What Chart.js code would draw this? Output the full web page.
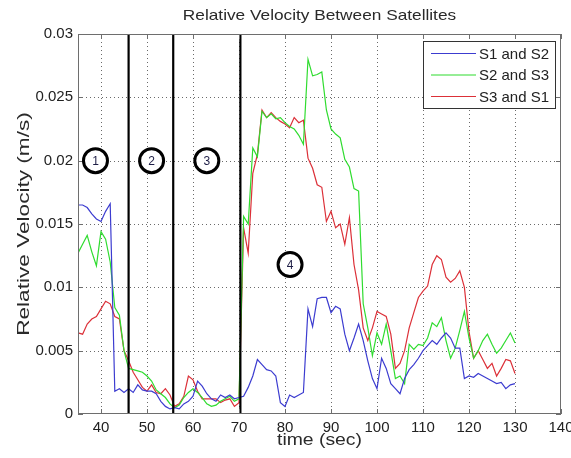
<!DOCTYPE html>
<html>
<head>
<meta charset="utf-8">
<script src="https://cdn.jsdelivr.net/npm/chart.js@4.4.1/dist/chart.umd.min.js"></script>
<style>
  html, body { margin: 0; padding: 0; background: #fff; }
  canvas { display: block; }
</style>
</head>
<body>
<canvas id="velocity_chart" width="571" height="458"></canvas>
<script>
var times = [35, 36, 37, 38, 39, 40, 41, 42, 43, 44,
             45, 46, 47, 48, 49, 50, 51, 52, 53, 54,
             55, 56, 57, 58, 59, 60, 61, 62, 63, 64,
             65, 66, 67, 68, 69, 70, 71, 72, 73, 74,
             75, 76, 77, 78, 79, 80, 81, 82, 83, 84,
             85, 86, 87, 88, 89, 90, 91, 92, 93, 94,
             95, 96, 97, 98, 99, 100, 101, 102, 103, 104,
             105, 106, 107, 108, 109, 110, 111, 112, 113, 114,
             115, 116, 117, 118, 119, 120, 121, 122, 123, 124,
             125, 126, 127, 128, 129, 130];

var s1_s2 = [0.0165, 0.0165, 0.0163, 0.0158, 0.0154, 0.0152, 0.0160, 0.0166, 0.0018, 0.0020,
             0.0017, 0.0020, 0.0017, 0.0023, 0.0019, 0.0018, 0.0018, 0.0016, 0.0010, 0.0006,
             0.0004, 0.0005, 0.0004, 0.0008, 0.0010, 0.0014, 0.0026, 0.0022, 0.0016, 0.0012,
             0.0010, 0.0015, 0.0013, 0.0015, 0.0012, 0.0013, 0.0014, 0.0021, 0.0030, 0.0043,
             0.0039, 0.0035, 0.0034, 0.0030, 0.0009, 0.0006, 0.0015, 0.0013, 0.0015, 0.0017,
             0.0083, 0.0069, 0.0091, 0.0092, 0.0092, 0.0080, 0.0085, 0.0083, 0.0063, 0.0050,
             0.0060, 0.0071, 0.0058, 0.0042, 0.0028, 0.0020, 0.0044, 0.0036, 0.0024, 0.0020,
             0.0016, 0.0028, 0.0035, 0.0039, 0.0044, 0.0050, 0.0054, 0.0058, 0.0055, 0.0060,
             0.0064, 0.0060, 0.0052, 0.0052, 0.0028, 0.0030, 0.0029, 0.0032, 0.0030, 0.0028,
             0.0026, 0.0024, 0.0025, 0.0020, 0.0023, 0.0024];

var s2_s3 = [0.0127, 0.0134, 0.0141, 0.0128, 0.0117, 0.0144, 0.0138, 0.0120, 0.0084, 0.0078,
             0.0050, 0.0036, 0.0035, 0.0034, 0.0033, 0.0030, 0.0026, 0.0019, 0.0016, 0.0013,
             0.0008, 0.0005, 0.0007, 0.0013, 0.0017, 0.0020, 0.0017, 0.0013, 0.0008, 0.0006,
             0.0007, 0.0010, 0.0012, 0.0014, 0.0010, 0.0012, 0.0156, 0.0150, 0.0210, 0.0203,
             0.0239, 0.0234, 0.0237, 0.0233, 0.0234, 0.0230, 0.0227, 0.0225, 0.0220, 0.0213,
             0.0280, 0.0267, 0.0268, 0.0270, 0.0240, 0.0225, 0.0221, 0.0218, 0.0201, 0.0195,
             0.0178, 0.0176, 0.0087, 0.0068, 0.0046, 0.0064, 0.0055, 0.0071, 0.0050, 0.0028,
             0.0030, 0.0024, 0.0055, 0.0051, 0.0055, 0.0054, 0.0060, 0.0072, 0.0069, 0.0076,
             0.0058, 0.0044, 0.0052, 0.0066, 0.0081, 0.0060, 0.0044, 0.0050, 0.0058, 0.0063,
             0.0055, 0.0048, 0.0052, 0.0058, 0.0064, 0.0056];

var s3_s1 = [0.0064, 0.0063, 0.0071, 0.0075, 0.0077, 0.0083, 0.0089, 0.0087, 0.0077, 0.0075,
             0.0050, 0.0042, 0.0033, 0.0027, 0.0021, 0.0018, 0.0023, 0.0017, 0.0016, 0.0020,
             0.0015, 0.0006, 0.0008, 0.0014, 0.0030, 0.0027, 0.0018, 0.0012, 0.0012, 0.0012,
             0.0012, 0.0009, 0.0011, 0.0012, 0.0006, 0.0009, 0.0147, 0.0127, 0.0190, 0.0205,
             0.0240, 0.0234, 0.0238, 0.0234, 0.0231, 0.0229, 0.0226, 0.0234, 0.0230, 0.0232,
             0.0202, 0.0194, 0.0181, 0.0179, 0.0152, 0.0160, 0.0147, 0.0150, 0.0134, 0.0155,
             0.0118, 0.0098, 0.0068, 0.0058, 0.0068, 0.0081, 0.0079, 0.0077, 0.0063, 0.0036,
             0.0040, 0.0050, 0.0068, 0.0080, 0.0092, 0.0097, 0.0101, 0.0118, 0.0125, 0.0122,
             0.0108, 0.0104, 0.0107, 0.0113, 0.0100, 0.0065, 0.0044, 0.0050, 0.0043, 0.0036,
             0.0040, 0.0030, 0.0036, 0.0043, 0.0042, 0.0032];

var series_names = ['S1 and S2', 'S2 and S3', 'S3 and S1'];
var colors = ['#3c3cd0', '#2fdc2f', '#dc3038'];

var x_ticks = [40, 50, 60, 70, 80, 90, 100, 110, 120, 130, 140];
var y_ticks = [0, 0.005, 0.01, 0.015, 0.02, 0.025, 0.03];

// phase boundaries (sec) and the numbered phase markers
var phase_bounds = [46, 55.7, 70.3];
var phase_labels = ['1', '2', '3', '4'];
var phase_times = [38.8, 51, 63, 81.1];
var phase_values = [0.02, 0.02, 0.02, 0.0118];

var FONT = '"Liberation Sans", Arial, Helvetica, sans-serif';

function to_points(values) {
    return times.map(function(t, i) {
        return { x: t, y: values[i] };
    });
}

function make_dataset(i, values) {
    return {
        label: series_names[i],
        data: to_points(values),
        borderColor: colors[i],
        borderWidth: 1.2,
        pointRadius: 0,
        tension: 0,
        fill: false
    };
}

// centred text, widened along its baseline by `stretch`
function wide_text(ctx, text, x, y, size, stretch, angle) {
    ctx.save();
    ctx.translate(x, y);
    if (angle) ctx.rotate(angle);
    ctx.scale(stretch, 1);
    ctx.font = size + 'px ' + FONT;
    ctx.textAlign = 'center';
    ctx.textBaseline = 'middle';
    ctx.fillText(text, 0, 0);
    ctx.restore();
}

var decorations = {
    id: 'decorations',
    beforeDatasetsDraw: function(chart) {
        var ctx = chart.ctx, a = chart.chartArea;
        var sx = chart.scales.x, sy = chart.scales.y;
        ctx.save();
        ctx.strokeStyle = '#6a6a6a';
        ctx.lineWidth = 1;
        ctx.setLineDash([1, 3]);
        x_ticks.forEach(function(t) {
            if (t <= sx.min || t >= sx.max) return;
            var px = Math.round(sx.getPixelForValue(t)) + 0.5;
            ctx.beginPath(); ctx.moveTo(px, a.top); ctx.lineTo(px, a.bottom); ctx.stroke();
        });
        y_ticks.forEach(function(v) {
            if (v <= sy.min || v >= sy.max) return;
            var py = Math.round(sy.getPixelForValue(v)) + 0.5;
            ctx.beginPath(); ctx.moveTo(a.left, py); ctx.lineTo(a.right, py); ctx.stroke();
        });
        ctx.restore();
    },
    afterDatasetsDraw: function(chart) {
        var ctx = chart.ctx, a = chart.chartArea;
        var sx = chart.scales.x, sy = chart.scales.y;
        ctx.save();

        // phase boundaries
        ctx.strokeStyle = '#000';
        ctx.lineWidth = 2.2;
        phase_bounds.forEach(function(t) {
            var px = sx.getPixelForValue(t);
            ctx.beginPath(); ctx.moveTo(px, a.top); ctx.lineTo(px, a.bottom); ctx.stroke();
        });

        // axes box with inward tick marks on all four sides
        ctx.strokeStyle = '#6e6e6e';
        ctx.lineWidth = 1;
        ctx.strokeRect(a.left + 0.5, a.top + 0.5, a.right - a.left - 1, a.bottom - a.top - 1);
        ctx.beginPath();
        x_ticks.forEach(function(t) {
            var px = Math.round(sx.getPixelForValue(t)) + 0.5;
            ctx.moveTo(px, a.bottom); ctx.lineTo(px, a.bottom - 5);
            ctx.moveTo(px, a.top); ctx.lineTo(px, a.top + 5);
        });
        y_ticks.forEach(function(v) {
            var py = Math.round(sy.getPixelForValue(v)) + 0.5;
            ctx.moveTo(a.left, py); ctx.lineTo(a.left + 5, py);
            ctx.moveTo(a.right, py); ctx.lineTo(a.right - 5, py);
        });
        ctx.stroke();

        // numbered phase circles
        ctx.textAlign = 'center';
        ctx.textBaseline = 'middle';
        ctx.font = '12px ' + FONT;
        phase_labels.forEach(function(lbl, i) {
            var cx = sx.getPixelForValue(phase_times[i]);
            var cy = sy.getPixelForValue(phase_values[i]);
            ctx.beginPath();
            ctx.arc(cx, cy, 12, 0, Math.PI * 2);
            ctx.fillStyle = '#fff';
            ctx.fill();
            ctx.lineWidth = 3;
            ctx.strokeStyle = '#000';
            ctx.stroke();
            ctx.fillStyle = '#1e1e46';
            ctx.fillText(lbl, cx, cy + 1);
        });

        // legend in the top right corner
        var lx = a.right - 138, ly = a.top + 7, lw = 132, lh = 67;
        ctx.fillStyle = '#fff';
        ctx.fillRect(lx, ly, lw, lh);
        ctx.strokeStyle = '#333';
        ctx.lineWidth = 1;
        ctx.strokeRect(lx + 0.5, ly + 0.5, lw, lh);
        ctx.textAlign = 'left';
        ctx.font = '15px ' + FONT;
        series_names.forEach(function(name, i) {
            var ry = ly + 12.5 + i * 21.5;
            ctx.strokeStyle = colors[i];
            ctx.lineWidth = 1.2;
            ctx.beginPath(); ctx.moveTo(lx + 8, ry); ctx.lineTo(lx + 53, ry); ctx.stroke();
            ctx.fillStyle = '#222';
            ctx.fillText(name, lx + 56, ry + 1);
        });

        // title and axis labels
        ctx.fillStyle = '#2a2a2a';
        var mid = (a.left + a.right) / 2;
        wide_text(ctx, 'Relative Velocity Between Satellites', mid, 16, 15, 1.15, 0);
        wide_text(ctx, 'time (sec)', mid, 441, 16, 1.21, 0);
        wide_text(ctx, 'Relative Velocity (m/s)', 24, (a.top + a.bottom) / 2, 17, 1.33, -Math.PI / 2);

        ctx.restore();
    }
};

var ctx = document.getElementById('velocity_chart');
new Chart(ctx, {
    type: 'line',
    data: {
        datasets: [
            make_dataset(0, s1_s2),
            make_dataset(1, s2_s3),
            make_dataset(2, s3_s1)
        ]
    },
    options: {
        responsive: false,
        animation: false,
        layout: { padding: { top: 34, right: 10, left: 0, bottom: 0 } },
        plugins: {
            legend: { display: false },
            tooltip: { enabled: false }
        },
        scales: {
            x: {
                type: 'linear',
                min: 35,
                max: 140,
                grid: { display: false, drawTicks: false },
                border: { display: false },
                afterBuildTicks: function(s) {
                    s.ticks = x_ticks.map(function(v) { return { value: v }; });
                },
                afterFit: function(s) {
                    s.height = 44;
                    s.paddingLeft = 0;
                    s.paddingRight = 0;
                },
                ticks: {
                    padding: 5,
                    maxRotation: 0,
                    autoSkip: false,
                    color: '#222',
                    font: { family: FONT, size: 15 },
                    callback: function(v) { return String(v); }
                }
            },
            y: {
                type: 'linear',
                min: 0,
                max: 0.03,
                grid: { display: false, drawTicks: false },
                border: { display: false },
                afterBuildTicks: function(s) {
                    s.ticks = y_ticks.map(function(v) { return { value: v }; });
                },
                afterFit: function(s) {
                    s.width = 78;
                    s.paddingTop = 0;
                    s.paddingBottom = 0;
                },
                ticks: {
                    padding: 5,
                    autoSkip: false,
                    color: '#222',
                    font: { family: FONT, size: 15 },
                    callback: function(v) { return String(+v.toFixed(3)); }
                }
            }
        }
    },
    plugins: [decorations]
});
</script>
</body>
</html>
